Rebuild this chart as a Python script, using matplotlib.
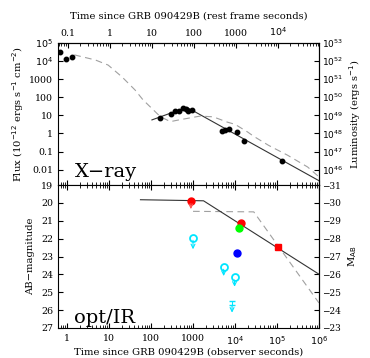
import numpy as np
import matplotlib
matplotlib.use('Agg')
import matplotlib.pyplot as plt
from matplotlib.ticker import FixedLocator, FuncFormatter, LogLocator, MultipleLocator

plt.rcParams['font.family'] = 'DejaVu Serif'
plt.rcParams['font.size'] = 7.2
plt.rcParams['xtick.labelsize'] = 6.8
plt.rcParams['ytick.labelsize'] = 6.8

z1 = 10.4  # 1+z

# X-ray data (observer s, flux 1e-12 cgs)
xr_t = [0.67, 0.95, 1.34, 166, 295, 380, 468, 575, 692, 776, 955, 4900, 5900, 7080, 11200, 16600, 132000]
xr_f = [3.3e4, 1.26e4, 1.74e4, 7.4, 12, 17, 18, 25, 22, 17, 20, 1.43, 1.55, 1.78, 1.26, 0.39, 0.030]

xr_fit_t = [105, 710, 1.05e6]
xr_fit_f = [5.6, 28, 0.0023]

xr_cmp_t = [1.48, 4.7, 9.5, 20.4, 41.7, 64.6, 166, 288, 501, 1480, 3020, 6610, 1e4, 2e4, 2.75e4, 6.3e4, 1.78e5, 5.37e5, 1e6]
xr_cmp_f = [2.2e4, 1.15e4, 6000, 1320, 250, 71, 8.5, 4.5, 5.8, 9.1, 8.3, 4.2, 3.2, 1.2, 0.71, 0.22, 0.063, 0.014, 0.004]

# optical / IR
opt_fit_t = [56, 1780, 1e6]
opt_fit_m = [19.82, 19.88, 23.99]
opt_cmp_t = [1000, 28000, 1e6]
opt_cmp_m = [20.47, 20.5, 25.6]

red_lim_t, red_lim_m, red_lim_end = 890, 19.88, 20.5
cyan_t = [1000, 5370, 9770]
cyan_m = [21.94, 23.56, 24.16]
cyan_end = [22.75, 24.25, 24.85]
cyanbar_t, cyanbar_m, cyanbar_end = 8510, 25.6, 26.3

det_t = [14100, 12300, 11200]
det_m = [21.14, 21.42, 22.81]
det_c = ['#ff0000', '#00ff00', '#0000ff']
sq_t, sq_m = 1.05e5, 22.45


def logfmt(v, pos):
    if v <= 0:
        return ''
    e = int(round(np.log10(v)))
    if -2 <= e <= 3:
        return ('%g' % v)
    return r'$10^{%d}$' % e


def lumfmt(v, pos):
    e = int(round(np.log10(v)))
    return r'$10^{%d}$' % e


fig = plt.figure(figsize=(3.7, 3.58), dpi=100)
ax1 = fig.add_axes([0.157, 0.483, 0.705, 0.397])
ax2 = fig.add_axes([0.157, 0.084, 0.705, 0.399], sharex=ax1)

# ---- top panel
ax1.plot(xr_cmp_t, xr_cmp_f, ls=(0, (6, 4)), color='#a0a0a0', lw=0.8)
ax1.plot(xr_fit_t, xr_fit_f, color='#333333', lw=0.8)
ax1.plot(xr_t, xr_f, 'o', color='k', ms=3.2)
ax1.set_xscale('log')
ax1.set_yscale('log')
ax1.set_xlim(0.61, 1e6)
ax1.set_ylim(1.4e-3, 1e5)
ax1.yaxis.set_major_locator(FixedLocator([1e-2, 0.1, 1, 10, 100, 1000, 1e4, 1e5]))
ax1.yaxis.set_major_formatter(FuncFormatter(logfmt))
ax1.yaxis.set_minor_locator(LogLocator(subs=np.arange(2, 10)))
ax1.set_ylabel(r'Flux (10$^{-12}$ ergs s$^{-1}$ cm$^{-2}$)', labelpad=2)
ax1.tick_params(axis='x', which='both', labelbottom=False, top=False, direction='in')
ax1.tick_params(axis='y', which='both', direction='in', right=False)
ax1.text(1.5, 4e-3, 'X\u2212ray', fontsize=14)

top = ax1.secondary_xaxis('top', functions=(lambda t: t / z1, lambda t: t * z1))
top.set_xticks([0.1, 1, 10, 100, 1000, 1e4])
top.xaxis.set_major_formatter(FuncFormatter(logfmt))
top.tick_params(which='both', direction='in')
top.set_xlabel('Time since GRB 090429B (rest frame seconds)', labelpad=5)

rlum = ax1.secondary_yaxis('right', functions=(lambda f: f * 1e48, lambda l: l / 1e48))
rlum.set_yticks([10.0 ** k for k in range(46, 54)])
rlum.yaxis.set_major_formatter(FuncFormatter(lumfmt))
rlum.tick_params(which='both', direction='in', pad=2, labelsize=6.5)
rlum.set_ylabel(r'Luminosity (ergs s$^{-1}$)', labelpad=3)

# ---- bottom panel
ax2.plot(opt_cmp_t, opt_cmp_m, ls=(0, (6, 4)), color='#a0a0a0', lw=0.8)
ax2.plot(opt_fit_t, opt_fit_m, color='#333333', lw=0.8)

ax2.annotate('', xy=(red_lim_t, red_lim_end), xytext=(red_lim_t, red_lim_m),
             arrowprops=dict(arrowstyle='->', color='#ff5050', lw=0.8, mutation_scale=7))
ax2.plot(red_lim_t, red_lim_m, 'o', color='#ff0000', ms=5)

for t, m, e in zip(cyan_t, cyan_m, cyan_end):
    ax2.annotate('', xy=(t, e), xytext=(t, m),
                 arrowprops=dict(arrowstyle='->', color='#00e5ff', lw=0.8, mutation_scale=7))
ax2.plot(cyan_t, cyan_m, 'o', mfc='none', mec='#00e5ff', mew=1.3, ms=5)
ax2.annotate('', xy=(cyanbar_t, cyanbar_end), xytext=(cyanbar_t, cyanbar_m),
             arrowprops=dict(arrowstyle='->', color='#00e5ff', lw=0.8, mutation_scale=7))
ax2.errorbar([cyanbar_t], [cyanbar_m], yerr=0.12, fmt='none', ecolor='#00e5ff',
             capsize=2, lw=0.8)

for t, m, c in zip(det_t, det_m, det_c):
    ax2.plot(t, m, 'o', color=c, ms=5)
ax2.plot(sq_t, sq_m, 's', color='#ff0000', ms=5)

ax2.set_ylim(27, 19)
ax2.yaxis.set_major_locator(MultipleLocator(1))
ax2.set_ylabel('AB\u2212magnitude', labelpad=4)
ax2.set_xticks([1, 10, 100, 1000, 1e4, 1e5, 1e6])
ax2.xaxis.set_major_formatter(FuncFormatter(logfmt))
ax2.xaxis.set_minor_locator(LogLocator(subs=np.arange(2, 10)))
ax2.tick_params(which='both', direction='in', top=True, right=False)
ax2.tick_params(axis='x', pad=4.5)
ax2.set_xlabel('Time since GRB 090429B (observer seconds)', labelpad=0.5)
ax2.text(1.5, 26.7, 'opt/IR', fontsize=14)

rmag = ax2.secondary_yaxis('right', functions=(lambda m: m - 50, lambda M: M + 50))
rmag.yaxis.set_major_locator(MultipleLocator(1))
rmag.yaxis.set_major_formatter(FuncFormatter(lambda v, p: ('%d' % v).replace('-', '\u2212')))
rmag.tick_params(which='both', direction='in', pad=2, labelsize=6.5)
rmag.set_ylabel(r'M$_{\rm AB}$', labelpad=4)

fig.savefig('out.png', dpi=100)
